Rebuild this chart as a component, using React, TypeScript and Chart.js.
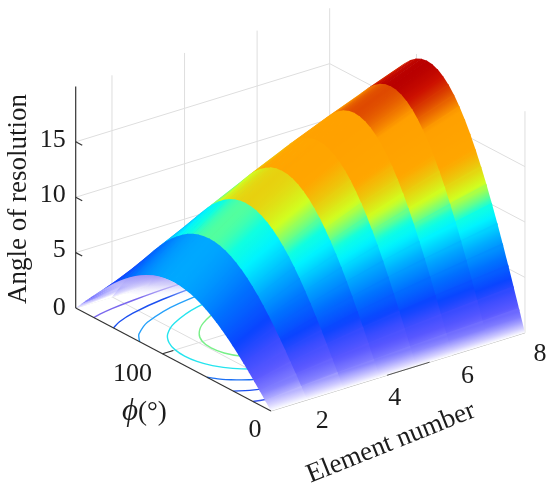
import React, { useEffect, useRef } from "react";
import { Chart, registerables } from "chart.js";

Chart.register(...registerables);

const phiGrid = [0,5,10,15,20,25,30,35,40,45,50,55,60,65,70,75,80,85,90,95,100,105,110,115,120,125,130,135,140,145,150,155,160,165,170,175,180];
const elements = [1,2,3,4,5,6,7,8];

const angleE1 = [0,.61,1.22,1.81,2.39,2.96,3.5,4.02,4.5,4.95,5.36,5.73,6.06,6.34,6.58,6.76,6.89,6.97,7,6.97,6.89,6.76,6.58,6.34,6.06,5.73,5.36,4.95,4.5,4.02,3.5,2.96,2.39,1.81,1.22,.61,0];
const angleE2 = [0,.86,1.72,2.56,3.39,4.18,4.95,5.68,6.36,7.0,7.58,8.11,8.57,8.97,9.3,9.56,9.75,9.86,9.9,9.86,9.75,9.56,9.3,8.97,8.57,8.11,7.58,7.0,6.36,5.68,4.95,4.18,3.39,2.56,1.72,.86,0];
const angleE3 = [0,1.06,2.1,3.13,4.14,5.11,6.05,6.94,7.78,8.56,9.27,9.91,10.48,10.97,11.37,11.69,11.92,12.05,12.1,12.05,11.92,11.69,11.37,10.97,10.48,9.91,9.27,8.56,7.78,6.94,6.05,5.11,4.14,3.13,2.1,1.06,0];
const angleE4 = [0,1.22,2.43,3.62,4.79,5.92,7,8.03,9,9.9,10.72,11.47,12.12,12.69,13.16,13.52,13.79,13.95,14,13.95,13.79,13.52,13.16,12.69,12.12,11.47,10.72,9.9,9,8.03,7,5.92,4.79,3.62,2.43,1.22,0];
const angleE5 = [0,1.37,2.73,4.06,5.37,6.63,7.85,9.01,10.09,11.1,12.03,12.86,13.6,14.23,14.75,15.16,15.46,15.64,15.7,15.64,15.46,15.16,14.75,14.23,13.6,12.86,12.03,11.1,10.09,9.01,7.85,6.63,5.37,4.06,2.73,1.37,0];
const angleE6 = [0,1.5,2.99,4.45,5.88,7.27,8.6,9.87,11.06,12.16,13.18,14.09,14.9,15.59,16.16,16.61,16.94,17.13,17.2,17.13,16.94,16.61,16.16,15.59,14.9,14.09,13.18,12.16,11.06,9.87,8.6,7.27,5.88,4.45,2.99,1.5,0];
const angleE7 = [0,1.62,3.23,4.81,6.36,7.86,9.3,10.67,11.96,13.15,14.25,15.24,16.11,16.86,17.48,17.97,18.32,18.53,18.6,18.53,18.32,17.97,17.48,16.86,16.11,15.24,14.25,13.15,11.96,10.67,9.3,7.86,6.36,4.81,3.23,1.62,0];
const angleE8 = [0,1.74,3.45,5.15,6.81,8.41,9.95,11.41,12.79,14.07,15.24,16.3,17.23,18.04,18.7,19.22,19.6,19.82,19.9,19.82,19.6,19.22,18.7,18.04,17.23,16.3,15.24,14.07,12.79,11.41,9.95,8.41,6.81,5.15,3.45,1.74,0];
const surfaceRows = [angleE1, angleE2, angleE3, angleE4, angleE5, angleE6, angleE7, angleE8];

// floor contours: [phi, element] pairs
const contour2a = [[163.4,1],[165,1.22],[167,1.61],[169,2.24],[171,3.33],[174.2,8]];
const contour2b = [[16.6,1],[15,1.22],[13,1.61],[11,2.24],[9,3.33],[5.8,8]];
const contour4a = [[145.2,1],[150,1.31],[155,1.83],[160,2.79],[165,4.87],[168.3,8]];
const contour4b = [[34.8,1],[30,1.31],[25,1.83],[20,2.79],[15,4.87],[11.7,8]];
const contour6a = [[121,1],[125,1.1],[130,1.25],[140,1.78],[150,2.94],[160,6.28],[162.4,8]];
const contour6b = [[59,1],[55,1.1],[50,1.25],[40,1.78],[30,2.94],[20,6.28],[17.6,8]];
const contour8 = [[156,7.9],[150,5.22],[140,3.16],[130,2.23],[120,1.74],[110,1.48],[100,1.35],[90,1.31],[80,1.35],[70,1.48],[60,1.74],[50,2.23],[40,3.16],[30,5.22],[24,7.9]];
const contour10 = [[150.5,8],[140,4.94],[130,3.48],[120,2.72],[110,2.31],[100,2.1],[90,2.04],[80,2.1],[70,2.31],[60,2.72],[50,3.48],[40,4.94],[29.5,8]];

const contours: [number[][], string][] = [
  [contour2a, "#7a68ee"], [contour2b, "#3a58f0"],
  [contour4a, "#1c50f0"], [contour4b, "#1c50f0"],
  [contour6a, "#25a0fa"], [contour6b, "#1c70f4"],
  [contour8, "#25e4ee"], [contour10, "#78f088"],
];

const fadeLowerZ = [4.2,4.1,3.9,3.6,3.3,3.0,2.6,2.2,1.8,1.3,.9,.45,0];
const fadePhi = [120,125,130,135,140,145,150,155,160,165,170,175,180];

const eTicks = [2, 4, 6, 8];
const phiTicks = [0, 100];
const zTicks = [0, 5, 10, 15];
const zGrid = [0, 5, 10, 15];
const eFloor = [2, 4, 6];
const zTop = 20;

const cmapZ =   [0, 0.35, 1.1, 2, 3, 4, 5.5, 7, 8.6, 9.4, 10, 11, 12.3, 13.3, 16, 17.3, 18, 18.6, 20];
const cmapCol = ["#ffffff","#d4d0ff","#8480ff","#5a58ff","#3a4cff","#0a44ff","#0070ff","#00a8ff","#00f4ff","#10ffe0","#60ff90","#d0ff20","#ecc80c","#ffa600","#ffa000","#dc4200","#cc1000","#b80000","#aa0000"];

const hex = (s: string) => [1, 3, 5].map((i) => parseInt(s.slice(i, i + 2), 16));
function colorAt(z: number) {
  let i = 0;
  while (i < cmapZ.length - 2 && z > cmapZ[i + 1]) i++;
  const t = Math.min(1, Math.max(0, (z - cmapZ[i]) / (cmapZ[i + 1] - cmapZ[i])));
  const a = hex(cmapCol[i]), b = hex(cmapCol[i + 1]);
  return `rgb(${a.map((v, j) => Math.round(v + (b[j] - v) * t)).join(",")})`;
}

// oblique view of (element, phi, angle) onto the chart's plane scales
function view(e: number, phi: number, z: number) {
  return {
    x: 271 + 36.28 * (e - 1) - 1.085 * phi,
    y: 411 - 11.17 * (e - 1) - 0.572 * phi - 11.08 * z,
  };
}

function lineSet(data: any[], color: string, width: number, extra: any = {}) {
  return { type: "line", data, borderColor: color, borderWidth: width, pointRadius: 0, fill: false, tension: 0, ...extra };
}

export default function App() {
  const ref = useRef<HTMLCanvasElement>(null);
  useEffect(() => {
    const canvas = ref.current!;
    const ctx = canvas.getContext("2d")!;
    const back: any[] = [];
    const GRID = "#dedede";
    const AX = "#333333";

    // walls and floor
    for (const e of eTicks) back.push(lineSet([view(e, 180, 0), view(e, 180, zTop)], GRID, 1));
    for (const p of phiTicks) back.push(lineSet([view(8, p, 0), view(8, p, zTop)], GRID, 1));
    for (const z of zGrid)
      back.push(lineSet([view(1, 180, z), view(8, 180, z), view(8, 0, z)], GRID, 1));
    for (const e of eFloor) back.push(lineSet([view(e, 0, 0), view(e, 180, 0)], GRID, 1));
    back.push(lineSet([view(1, 100, 0), view(8, 100, 0)], GRID, 1));

    // floor contours
    for (const [pts, col] of contours)
      back.push(lineSet(pts.map(([p, e]) => view(e, p, 0)), col, 1.4, { tension: 0.35 }));

    // element axis (under the surface)
    back.push(lineSet([view(1, 0, 0), view(8, 0, 0)], "#b8b8b8", 1));

    // surface, far to near; each cell overlaps the far neighbour slightly to hide seams
    for (let k = 6; k >= 0; k--) {
      const row = surfaceRows[k];
      for (let i = phiGrid.length - 2; i >= 0; i--) {
        const e0 = elements[k], e1 = elements[k + 1];
        const a = view(e0, phiGrid[i], row[i]);
        const b = view(e1, phiGrid[i], surfaceRows[k + 1][i]);
        const c = view(e1, phiGrid[i + 1], surfaceRows[k + 1][i + 1]);
        const d = view(e0, phiGrid[i + 1], row[i + 1]);
        const m0 = { x: (a.x + b.x) / 2, y: (a.y + b.y) / 2 };
        const m1 = { x: (c.x + d.x) / 2, y: (c.y + d.y) / 2 };
        const ex = b.x - a.x, ey = b.y - a.y;
        const len = Math.hypot(ex, ey) || 1;
        const nx = -ey / len, ny = ex / len;
        let dot = (m1.x - m0.x) * nx + (m1.y - m0.y) * ny;
        if (Math.abs(dot) < 1) dot = dot < 0 ? -1 : 1;
        const g = ctx.createLinearGradient(m0.x, m0.y, m0.x + nx * dot, m0.y + ny * dot);
        for (let s = 0; s <= 4; s++) g.addColorStop(s / 4, colorAt(row[i] + ((row[i + 1] - row[i]) * s) / 4));
        const o = 0.12;
        const pad = k > 0 ? 0.04 : 0;
        const grow = (p: any, q: any, r: number) => ({ x: p.x + (p.x - q.x) * r, y: p.y + (p.y - q.y) * r });
        const c2 = grow(c, b, o);
        const d2 = grow(d, a, o);
        const a2 = grow(a, b, pad);
        const d3 = grow(d2, c2, pad);
        back.push(lineSet([a2, b, c2, d3, a2], "rgba(0,0,0,0)", 0, { fill: "shape", backgroundColor: g }));
      }
    }

    // pale fade under the first arch
    const upper = phiGrid.map((p, i) => ({ p, z: angleE1[i] })).filter((q) => q.p >= 50);
    const lowerPts = fadePhi.map((p, i) => view(1, p, fadeLowerZ[i]));
    const fadePts = [
      ...upper.map((q) => view(1, q.p, q.z)),
      ...lowerPts.slice().reverse(),
    ];
    const fade = ctx.createLinearGradient(0, 272, 0, 298);
    fade.addColorStop(0, "rgba(150,140,245,1)");
    fade.addColorStop(0.5, "rgba(205,200,250,.8)");
    fade.addColorStop(1, "rgba(255,255,255,0)");
    back.push(lineSet([...fadePts, fadePts[0]], "rgba(0,0,0,0)", 0, { fill: "shape", backgroundColor: fade }));

    // dark axes and ticks
    back.push(lineSet([view(1, 180, 0), view(1, 180, zTop)], AX, 1.2));
    back.push(lineSet([view(1, 180, 0), view(1, 0, 0)], AX, 1.2));
    back.push(lineSet([view(4.2, 0, 0), view(5.37, 0, 0)], "#555555", 1));
    for (const z of zTicks.slice(1))
      back.push(lineSet([view(1, 180, z), view(1, 174, z)], AX, 1.2));
    back.push(lineSet([view(1, 100, 0), view(1.3, 100, 0)], AX, 1.2));

    const labels = {
      id: "labels",
      afterDatasetsDraw(chart: any) {
        const c = chart.ctx;
        const sx = chart.scales.x, sy = chart.scales.y;
        const put = (t: string, x: number, y: number, align: CanvasTextAlign = "center") => {
          c.textAlign = align;
          c.fillText(t, sx.getPixelForValue(x), sy.getPixelForValue(y));
        };
        c.save();
        c.fillStyle = "#1c1c1c";
        c.textBaseline = "middle";
        c.font = '26px "Liberation Serif"';
        for (const z of zTicks) {
          const p = view(1, 180, z);
          put(String(z), p.x - 10, p.y - (z > 0 ? 2 : 0), "right");
        }
        for (const e of eTicks) {
          const p = view(e, 0, 0);
          put(String(e), p.x + 15, p.y + 21);
        }
        for (const f of phiTicks) {
          const p = view(1, f, 0);
          put(String(f), f === 0 ? p.x - 16 : p.x - 30, f === 0 ? p.y + 19 : p.y + 20);
        }
        c.textAlign = "left";
        c.font = 'italic 31px "Liberation Serif"';
        c.fillText("\u03d5", 122, 412);
        c.font = '27px "Liberation Serif"';
        c.fillText("(\u00b0)", 138, 413);
        c.save();
        c.translate(19, 199);
        c.rotate(-Math.PI / 2);
        c.textAlign = "center";
        c.fillText("Angle of resolution", 0, 0);
        c.restore();
        c.save();
        c.translate(391, 443);
        c.rotate((-21.8 * Math.PI) / 180);
        c.textAlign = "center";
        c.fillText("Element number", 0, 0);
        c.restore();
        c.restore();
      },
    };

    const chart = new Chart(canvas, {
      data: { datasets: back.slice().reverse() },
      options: {
        responsive: false,
        animation: false,
        parsing: false,
        layout: { padding: 0 },
        events: [],
        scales: {
          x: { type: "linear", min: 0, max: 550, display: false },
          y: { type: "linear", min: 0, max: 496, reverse: true, display: false },
        },
        plugins: { legend: { display: false }, tooltip: { enabled: false } },
      },
      plugins: [labels],
    } as any);
    return () => chart.destroy();
  }, []);
  return (
    <div style={{ position: "absolute", left: 0, top: 0, width: 550, height: 496, background: "#fff" }}>
      <canvas ref={ref} width={550} height={496} style={{ display: "block" }} />
    </div>
  );
}
